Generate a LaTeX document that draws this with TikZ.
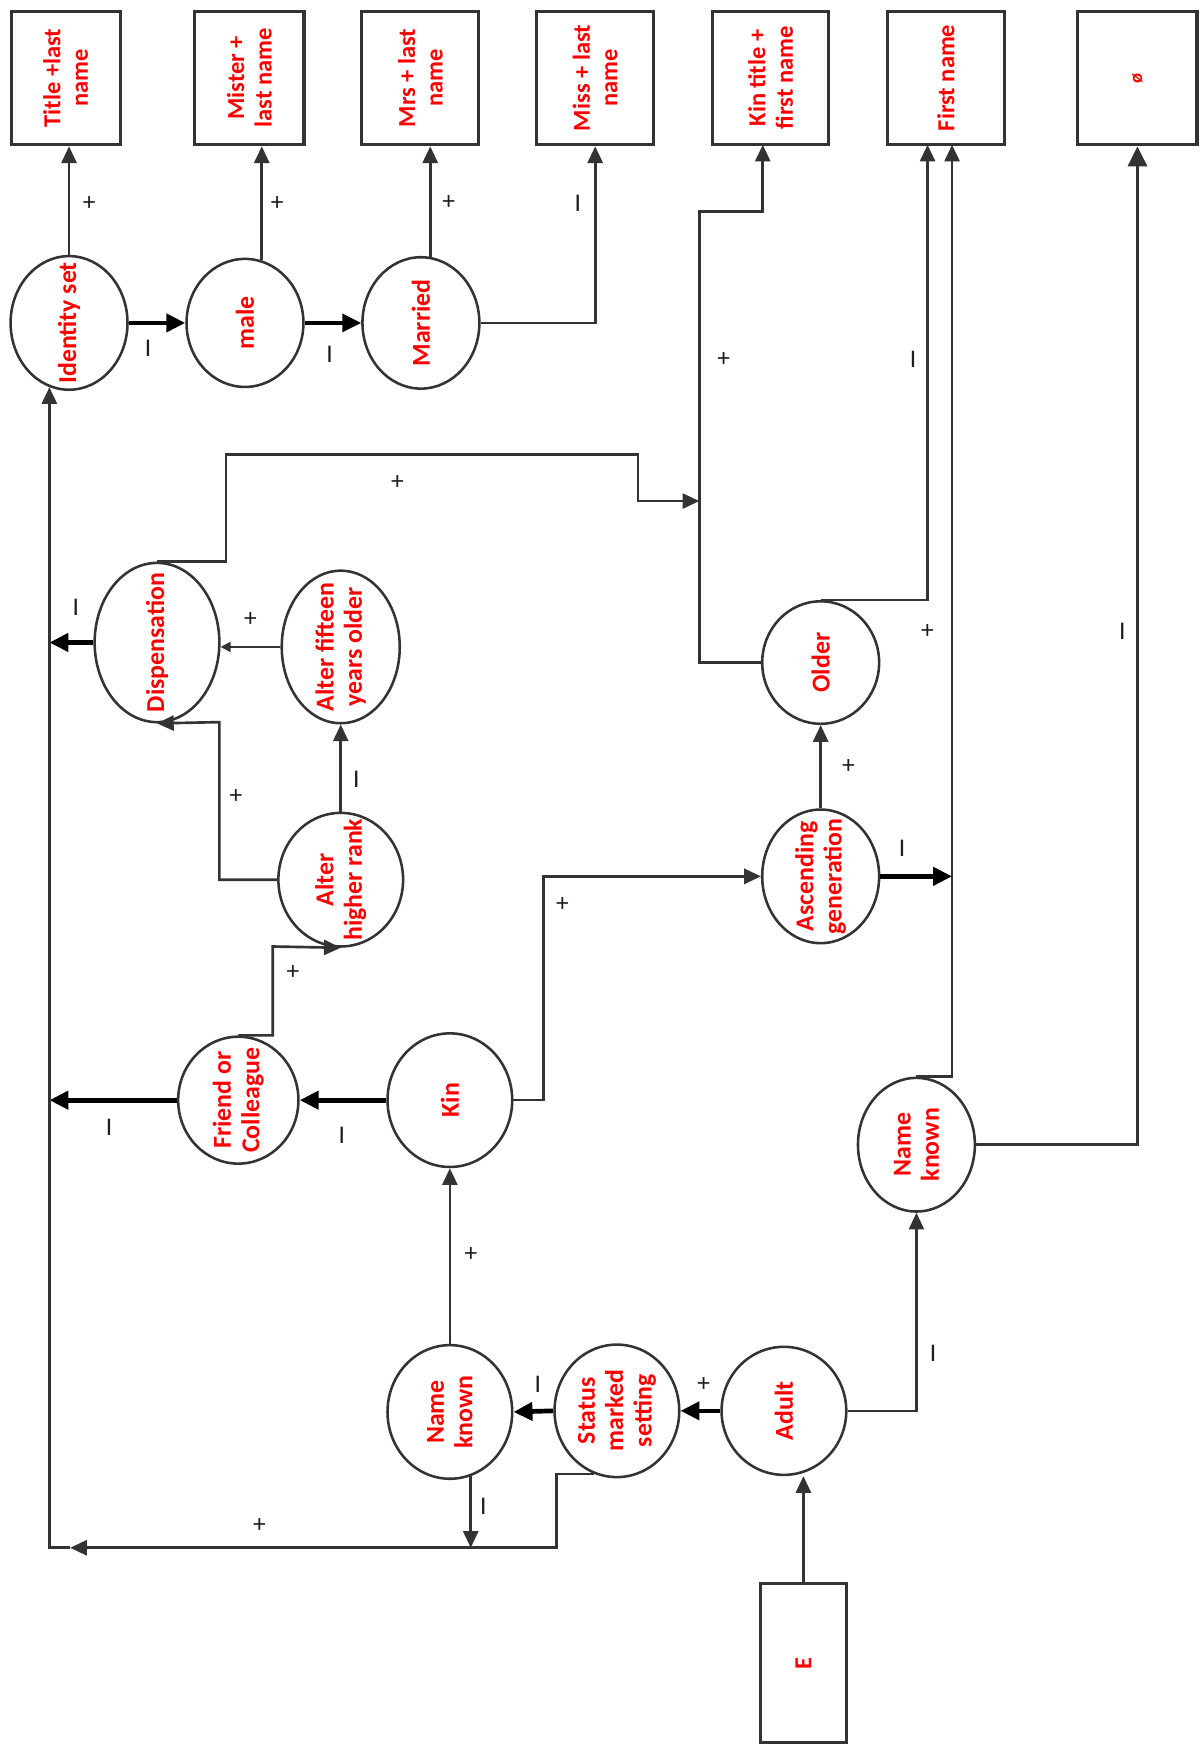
\documentclass[tikz,border=0pt]{standalone}
\usepackage{fontspec}
\setmainfont{Carlito}
\usetikzlibrary{shapes.geometric,arrows.meta}
\definecolor{linec}{HTML}{333333}
\definecolor{txtred}{HTML}{FF0000}
\definecolor{signc}{HTML}{1E1E1E}
\newcommand\bubfont{\fontsize{13.2}{14.5}\selectfont\bfseries}
\newcommand\boxfont{\fontsize{12.5}{14}\selectfont\bfseries}
\newcommand\signfont{\fontsize{13}{15}\selectfont}
\begin{document}
\begin{tikzpicture}[x=0.02cm, y=-0.02cm,
  bub/.style={ellipse, draw=linec, line width=1.3pt, inner sep=0pt},
  sq/.style={rectangle, draw=linec, line width=1.6pt, inner sep=0pt},
  sz/.style 2 args={minimum width=#1*0.02cm, minimum height=#2*0.02cm},
  btxt/.style={rotate=90, align=center, text=txtred, font=\bubfont, inner sep=0pt},
  qtxt/.style={rotate=90, align=center, text=txtred, font=\boxfont, inner sep=0pt},
  sign/.style={font=\signfont, text=signc, inner sep=0pt},
  link/.style={draw=linec, line width=1.35pt, -{Triangle[length=3mm, width=2.7mm]}},
  heavy/.style={draw=black, line width=2.4pt, -{Triangle[length=3.4mm, width=3.2mm]}},
  light/.style={draw=linec, line width=1pt, -{Triangle[length=1.8mm, width=1.8mm]}}]

\path[use as bounding box] (0,0) rectangle (1078,1568);

% outcome boxes along the top
\node[sq, sz={98}{120},  label={[qtxt]center:{Title +last\\name}}] (t1) at (59,70) {};
\node[sq, sz={98}{120},  label={[qtxt]center:{Mister +\\last name}}] (t2) at (224,70) {};
\node[sq, sz={105}{120}, label={[qtxt]center:{Mrs + last\\name}}] (t3) at (377.5,70) {};
\node[sq, sz={105}{120}, label={[qtxt]center:{Miss + last\\name}}] (t4) at (534.5,70) {};
\node[sq, sz={104}{120}, label={[qtxt]center:{Kin title +\\first name}}] (t5) at (692,70) {};
\node[sq, sz={105}{120}, label={[qtxt]center:{First name}}] (t6) at (849.5,70) {};
\node[sq, sz={107}{120}, label={[qtxt, font=\fontsize{9.5}{10}\selectfont\bfseries]center:{ø}}] (t7) at (1021.5,70) {};

% entry box
\node[sq, sz={77}{143}, label={[qtxt]center:{E}}] (eb) at (721.5,1493.5) {};

% decision nodes
\node[bub, sz={105}{120}, label={[btxt]center:{Identity set}}] (ident) at (62,290) {};
\node[bub, sz={105}{115}, label={[btxt]center:{male}}] (male) at (220,290) {};
\node[bub, sz={105}{118}, label={[btxt]center:{Married}}] (married) at (378,290) {};
\node[bub, sz={112}{143}, label={[btxt]center:{Dispensation}}] (disp) at (141,577) {};
\node[bub, sz={106}{137}, label={[btxt]center:{Alter fifteen\\years older}}] (a15) at (306,581) {};
\node[bub, sz={112}{120}, label={[btxt]center:{Alter\\higher rank}}] (ahr) at (306,790) {};
\node[bub, sz={108}{114}, label={[btxt]center:{Friend or\\Colleague}}] (fc) at (214,988) {};
\node[bub, sz={112}{120}, label={[btxt]center:{Kin}}] (kin) at (404,988) {};
\node[bub, sz={105}{110}, label={[btxt]center:{Older}}] (older) at (737,595) {};
\node[bub, sz={105}{120}, label={[btxt]center:{Ascending\\generation}}] (asc) at (737,787) {};
\node[bub, sz={105}{120}, label={[btxt]center:{Name\\known}}] (nk2) at (823,1028) {};
\node[bub, sz={112}{115}, label={[btxt]center:{Adult}}] (adult) at (704,1267) {};
\node[bub, sz={112}{119}, label={[btxt]center:{Status\\marked\\setting}}] (status) at (554,1267) {};
\node[bub, sz={112}{120}, label={[btxt]center:{Name\\known}}] (nk1) at (404,1268) {};

% bend points of the routed connectors
\coordinate (kb) at (628,190);
\coordinate (k5) at (685,130);
\coordinate (d1) at (203,408);
\coordinate (d2) at (573,450);
\coordinate (d3) at (197,648.5);
\coordinate (f1) at (833,130);
\coordinate (f2) at (855,130);
\coordinate (f3) at (245,850);
\coordinate (k1) at (488,787);
\coordinate (s1) at (500,1390);
\coordinate (s2) at (63,1390);
\coordinate (sp) at (ident.253 |- s1);

% top row
\draw[heavy] (ident.east) -- (male.west);
\draw[heavy, line width=1.9pt] (male.east) -- (married.west);
\draw[link] (ident.north) -- (ident.north |- t1.south);
\draw[link] (male.75) -- (male.75 |- t2.south);
\draw[link] (married.82) -- (married.82 |- t3.south);
\draw[link] (married.east) -| (t4.south);

% routes into the kin / first-name boxes
\draw[link] (older.west) -| (kb) -| (k5);
\draw[link] (disp.north) -| (d1) -| (d2) -- (kb |- d2);
\draw[link] (older.north) -| (f1);
\draw[link] (nk2.north) -| (f2);
\draw[heavy] (asc.east) -- (asc.east -| f2);
\draw[link, line width=1.8pt, -{Triangle[length=3.6mm, width=3.4mm]}] (nk2.east) -| (t7.south);

% dispensation cluster
\draw[light] (a15.west) -- (a15.west -| disp.east);
\draw[heavy] (disp.west) -- (disp.west -| sp);
\draw[link] (ahr.north) -- (a15.south);
\draw[link] (ahr.west) -| (d3) -- (disp.south);
\draw[link] (fc.north) -| (f3) -- (ahr.south);
\draw[heavy] (fc.west) -- (fc.west -| sp);
\draw[heavy] (kin.west) -- (fc.east);
\draw[link] (kin.east) -| (k1) -- (asc.west);
\draw[link] (asc.north) -- (older.south);

% lower chain
\draw[link] (eb.north) -- (eb.north |- adult.south);
\draw[link] (adult.east) -| (nk2.south);
\draw[heavy] (adult.west) -- (status.east);
\draw[heavy] (status.west) -- (nk1.east);
\draw[link] (nk1.north) -- (kin.south);
\draw[link] (nk1.-72) -- (nk1.-72 |- s1);
\draw[link] (status.250) -| (s1) -- (s2);
\draw[link] (s2) -- (sp) -- (ident.253);

% signs on the connectors
\node[sign] (p1) at (80,183) {+};
\node[sign] (p2) at (249,183) {+};
\node[sign] (p3) at (403,182) {+};
\node[sign] (n1) at (519,183) {I};
\node[sign] (n2) at (133,313) {I};
\node[sign] (n3) at (296,318) {I};
\node[sign] (p4) at (650,323) {+};
\node[sign] (n4) at (820,323) {I};
\node[sign] (p5) at (357,433) {+};
\node[sign] (n5) at (68,545) {I};
\node[sign] (p6) at (225,556) {+};
\node[sign] (p7) at (833,567) {+};
\node[sign] (n6) at (1008,567) {I};
\node[sign] (p8) at (762,688) {+};
\node[sign] (n7) at (320,700) {I};
\node[sign] (p9) at (212,715) {+};
\node[sign] (n8) at (810,762) {I};
\node[sign] (p10) at (505,812) {+};
\node[sign] (p11) at (263,873) {+};
\node[sign] (n9) at (98,1012) {I};
\node[sign] (n10) at (307,1020) {I};
\node[sign] (p12) at (423,1127) {+};
\node[sign] (n11) at (838,1215) {I};
\node[sign] (n12) at (483,1243) {I};
\node[sign] (p13) at (632,1243) {+};
\node[sign] (n13) at (434,1353) {I};
\node[sign] (p14) at (233,1370) {+};
\end{tikzpicture}
\end{document}
